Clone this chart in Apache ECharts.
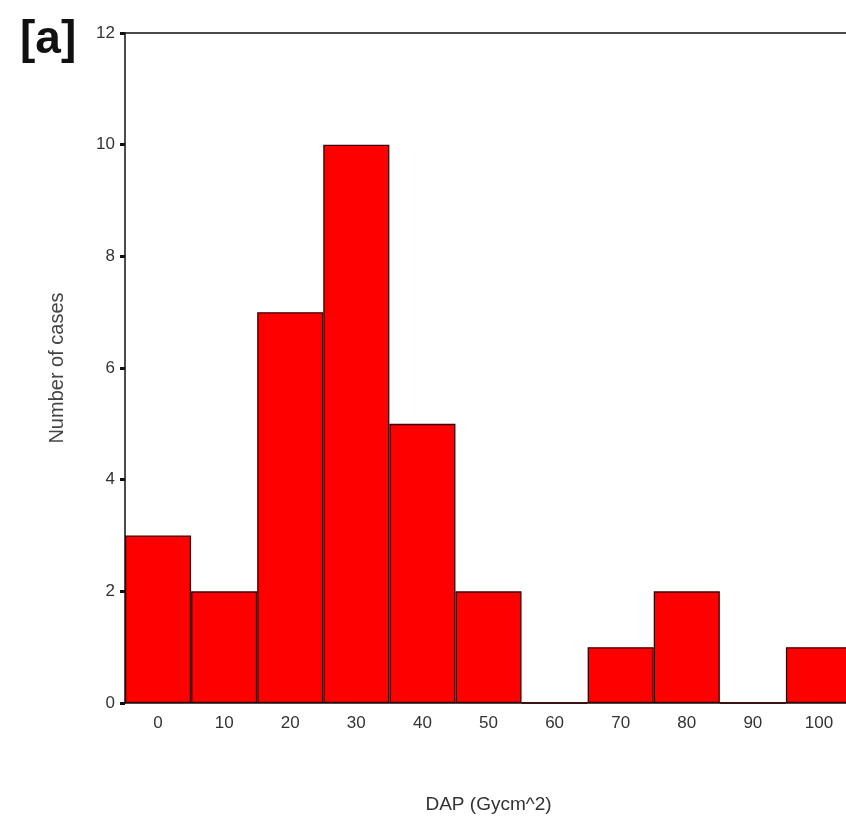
<!DOCTYPE html>
<html>
<head>
<meta charset="utf-8">
<script src="https://cdn.jsdelivr.net/npm/echarts@6/dist/echarts.min.js"></script>
<style>html,body{margin:0;padding:0;background:#fff;overflow:hidden;}#c{width:852px;height:821px;}</style>
</head>
<body>
<div id="c"></div>
<script>
const categories = ['0','10','20','30','40','50','60','70','80','90','100'];
const counts = [3, 2, 7, 10, 5, 2, 0, 1, 2, 0, 1];
const yTicks = [0, 2, 4, 6, 8, 10, 12];

const chart = echarts.init(document.getElementById('c'));
chart.setOption({
  animation: false,
  backgroundColor: '#fff',
  title: {
    text: '[a]', left: 15, top: 12,
    textStyle: { fontFamily: 'Liberation Sans', fontSize: 46, fontWeight: 'bold', color: '#111' }
  },
  grid: { left: 125, right: 0, top: 33, bottom: 118 },
  xAxis: [{
    type: 'category',
    data: categories,
    position: 'bottom',
    name: 'DAP (Gycm^2)',
    nameLocation: 'middle',
    nameGap: 92,
    nameTextStyle: { fontFamily: 'Liberation Sans', fontSize: 19, color: '#333' },
    axisLine: { lineStyle: { color: '#111', width: 1.5 } },
    axisTick: { alignWithLabel: true, length: 5, lineStyle: { color: '#111', width: 3 } },
    axisLabel: { margin: 12, fontFamily: 'Liberation Sans Narrow, Liberation Sans', fontSize: 17, color: '#333' },
    splitLine: { show: false }
  }, {
    type: 'category',
    data: categories,
    position: 'top',
    axisLine: { lineStyle: { color: '#111', width: 1.5 } },
    axisTick: { show: false },
    axisLabel: { show: false }
  }],
  yAxis: {
    type: 'value',
    min: 0, max: 12, interval: 2,
    name: 'Number of cases',
    nameLocation: 'middle',
    nameGap: 58,
    nameRotate: 90,
    nameTextStyle: { fontFamily: 'Liberation Sans', fontSize: 20, color: '#444' },
    axisLine: { show: true, lineStyle: { color: '#111', width: 1.5 } },
    axisTick: { show: true, length: 5, lineStyle: { color: '#111', width: 3 } },
    axisLabel: { margin: 10, fontFamily: 'Liberation Sans Narrow, Liberation Sans', fontSize: 17, color: '#333',
      formatter: v => yTicks.includes(v) ? String(v) : '' },
    splitLine: { show: false }
  },
  series: [{
    type: 'bar',
    data: counts,
    barCategoryGap: '0%',
    itemStyle: { color: '#ff0000', borderColor: '#3a0000', borderWidth: 1.3 }
  }]
});
</script>
</body>
</html>
